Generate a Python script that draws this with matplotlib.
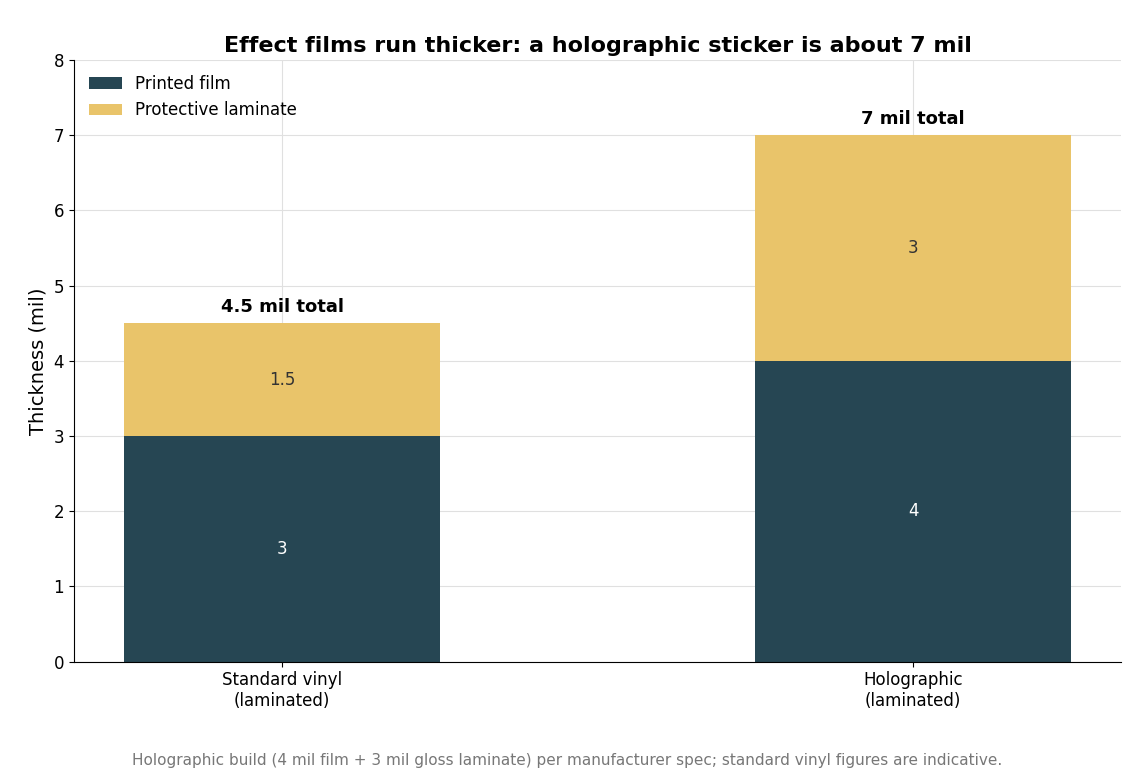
import matplotlib
matplotlib.use("Agg")
import matplotlib.pyplot as plt

categories = ["Standard vinyl\n(laminated)", "Holographic\n(laminated)"]
film = [3, 4]
laminate = [1.5, 3]
totals_labels = ["4.5 mil total", "7 mil total"]

fig, ax = plt.subplots(figsize=(11.35, 7.81), dpi=100)
x = range(len(categories))
b1 = ax.bar(x, film, width=0.5, color="#264653", label="Printed film", zorder=2)
b2 = ax.bar(x, laminate, width=0.5, bottom=film, color="#e9c46a", label="Protective laminate", zorder=2)
for i in x:
    ax.text(i, film[i]/2, f"{film[i]:g}", ha="center", va="center", color="white", fontsize=12)
    ax.text(i, film[i]+laminate[i]/2, f"{laminate[i]:g}", ha="center", va="center", color="#333333", fontsize=12)
    ax.text(i, film[i]+laminate[i]+0.1, totals_labels[i], ha="center", va="bottom", fontsize=13, fontweight="bold")
ax.set_xticks(list(x))
ax.set_xticklabels(categories, fontsize=12)
ax.set_ylim(0, 8)
ax.set_xlim(-0.33, 1.33)
ax.tick_params(axis="y", labelsize=12)
ax.set_ylabel("Thickness (mil)", fontsize=14)
ax.set_title("Effect films run thicker: a holographic sticker is about 7 mil", fontsize=16, fontweight="bold")
ax.grid(True, color="#e0e0e0", zorder=0)
for s in ["top", "right"]:
    ax.spines[s].set_visible(False)
ax.legend(loc="upper left", frameon=False, fontsize=12)
fig.text(0.5, 0.02, "Holographic build (4 mil film + 3 mil gloss laminate) per manufacturer spec; standard vinyl figures are indicative.",
         ha="center", fontsize=11, color="#777777")
plt.subplots_adjust(left=0.065, right=0.988, top=0.923, bottom=0.153)
fig.savefig("out.png")
